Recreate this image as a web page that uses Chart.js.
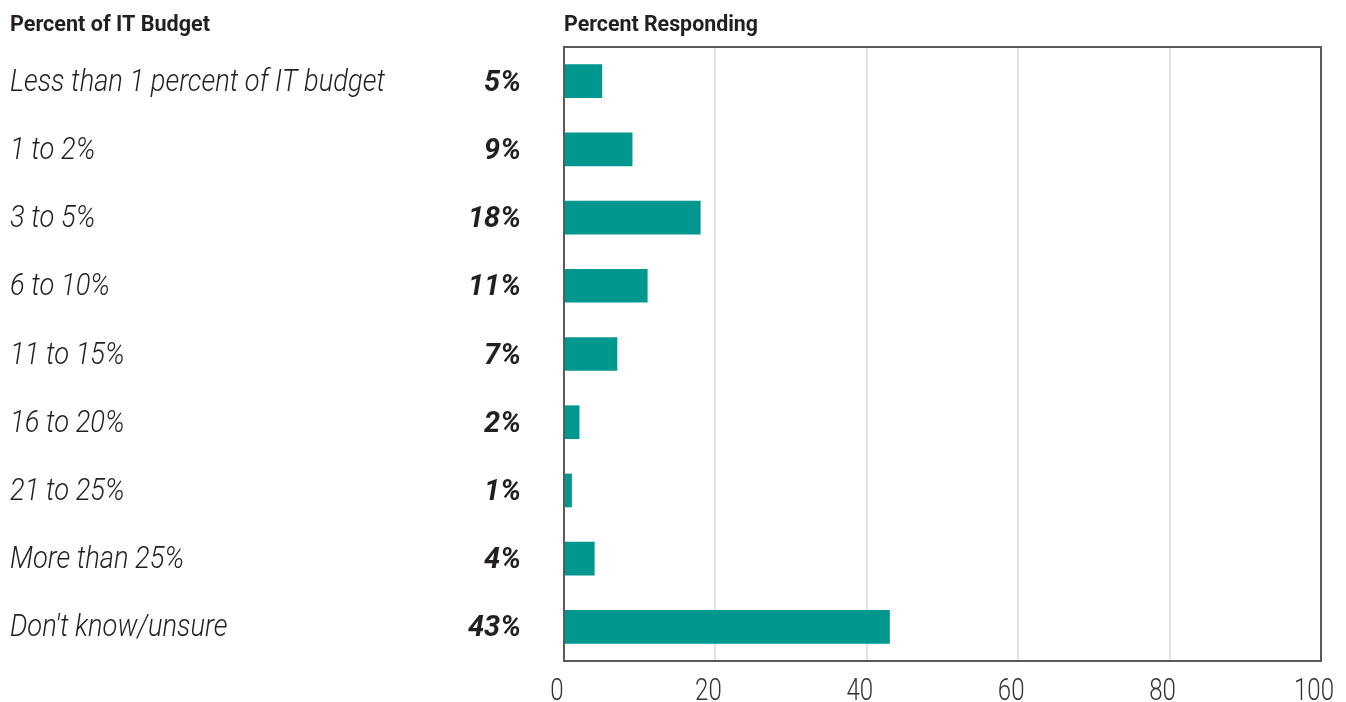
<!DOCTYPE html>
<html>
<head>
<meta charset="utf-8">
<script src="https://cdn.jsdelivr.net/npm/chart.js@4.4.1/dist/chart.umd.min.js"></script>
<style>
    html, body { margin: 0; padding: 0; background: #fff; }
    #wrap { width: 1346px; height: 702px; position: relative; }
</style>
</head>
<body>
<div id="wrap"><canvas id="budgetChart"></canvas></div>
<script>
const categories = [
    'Less than 1 percent of IT budget',
    '1 to 2%',
    '3 to 5%',
    '6 to 10%',
    '11 to 15%',
    '16 to 20%',
    '21 to 25%',
    'More than 25%',
    "Don't know/unsure"
];
const responding = [5, 9, 18, 11, 7, 2, 1, 4, 43];
const xTicks = [0, 20, 40, 60, 80, 100];
const leftTitle = 'Percent of IT Budget';
const rightTitle = 'Percent Responding';

const FONT = "Roboto, 'Liberation Sans', sans-serif";
const BAR_COLOR = '#00978f';
const TEXT_COLOR = '#231f20';

// horizontal squeeze so the sample string ends up `width` px wide
function squeezeFor(ctx, sample, width) {
    return width / ctx.measureText(sample).width;
}

function drawSqueezed(ctx, text, x, y, sx, align) {
    ctx.save();
    ctx.translate(x, y);
    ctx.scale(sx, 1);
    ctx.textAlign = align;
    ctx.fillText(text, 0, 0);
    ctx.restore();
}

// category names, value labels, x tick labels, headers and frame
const labelPlugin = {
    id: 'labelPlugin',
    afterDraw(chart) {
        const ctx = chart.ctx;
        const xScale = chart.scales.x;
        const yScale = chart.scales.y;
        const area = chart.chartArea;
        ctx.save();
        ctx.fillStyle = TEXT_COLOR;
        ctx.textBaseline = 'alphabetic';

        ctx.font = 'bold 22px ' + FONT;
        drawSqueezed(ctx, leftTitle, 10, 31, squeezeFor(ctx, leftTitle, 200), 'left');
        drawSqueezed(ctx, rightTitle, area.left, 31, squeezeFor(ctx, rightTitle, 194), 'left');

        ctx.font = 'italic 300 32px ' + FONT;
        const catSx = squeezeFor(ctx, categories[0], 375);
        ctx.font = 'italic bold 30px ' + FONT;
        const valSx = squeezeFor(ctx, '43%', 53);

        categories.forEach((cat, i) => {
            const y = yScale.getPixelForValue(i) + 9.5;
            ctx.font = 'italic 300 32px ' + FONT;
            drawSqueezed(ctx, cat, 10, y, catSx, 'left');
            ctx.font = 'italic bold 30px ' + FONT;
            drawSqueezed(ctx, responding[i] + '%', 521, y, valSx, 'right');
        });

        // x tick labels, sitting a little left of their gridlines
        ctx.fillStyle = '#333';
        ctx.font = '300 31px ' + FONT;
        const tickSx = squeezeFor(ctx, '100', 40);
        xScale.ticks.forEach(t => {
            const x = xScale.getPixelForValue(t.value);
            drawSqueezed(ctx, String(t.value), x - 7, 700, tickSx, 'center');
        });

        // plot frame drawn over the bars
        ctx.strokeStyle = '#5a5a5a';
        ctx.lineWidth = 2;
        ctx.strokeRect(area.left, area.top, area.right - area.left, area.bottom - area.top);
        ctx.restore();
    }
};

new Chart(document.getElementById('budgetChart'), {
    type: 'bar',
    data: {
        labels: categories,
        datasets: [{
            data: responding,
            backgroundColor: BAR_COLOR,
            barThickness: 33,
            borderWidth: 0
        }]
    },
    options: {
        indexAxis: 'y',
        responsive: true,
        maintainAspectRatio: false,
        animation: false,
        layout: { padding: { top: 47, right: 25, left: 0, bottom: 0 } },
        plugins: { legend: { display: false }, tooltip: { enabled: false } },
        scales: {
            x: {
                min: 0,
                max: 100,
                afterBuildTicks(scale) {
                    scale.ticks = xTicks.map(v => ({ value: v }));
                },
                afterFit(scale) {
                    scale.height = 41;
                    scale.paddingLeft = 0;
                    scale.paddingRight = 0;
                },
                border: { display: false },
                grid: {
                    color: ctx => (ctx.tick.value === 0 || ctx.tick.value === 100) ? 'rgba(0,0,0,0)' : '#e2e2e2',
                    lineWidth: 2,
                    drawTicks: false
                },
                ticks: { display: false }
            },
            y: {
                afterFit(scale) { scale.width = 564; },
                border: { display: false },
                grid: { display: false, drawTicks: false },
                ticks: { display: false }
            }
        }
    },
    plugins: [labelPlugin]
});
</script>
</body>
</html>
